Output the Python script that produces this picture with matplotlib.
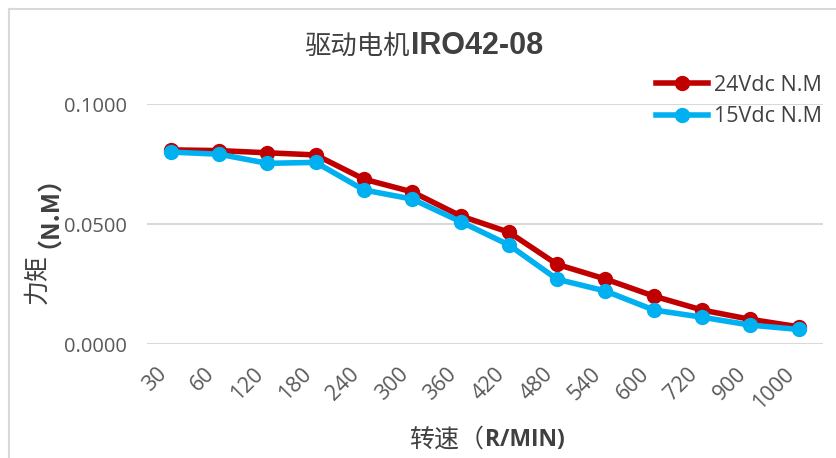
import matplotlib
matplotlib.use("Agg")
import matplotlib.pyplot as plt
from matplotlib.lines import Line2D

plt.rcParams['font.family'] = ['Open Sans', 'Noto Sans CJK SC', 'DejaVu Sans']

speeds = ["30", "60", "120", "180", "240", "300", "360", "420", "480", "540", "600", "720", "900", "1000"]
torque_24v = [0.0810, 0.0807, 0.0798, 0.0789, 0.0688, 0.0635, 0.0535, 0.0467, 0.0333, 0.0272, 0.0201, 0.0143, 0.0104, 0.0073]
torque_15v = [0.0801, 0.0792, 0.0754, 0.0758, 0.0643, 0.0605, 0.0511, 0.0414, 0.0271, 0.0222, 0.0143, 0.0113, 0.0080, 0.0062]
yticks = [0.0, 0.05, 0.1]

W, H = 837, 458
fig = plt.figure(figsize=(W / 100, H / 100), dpi=100)
ax = fig.add_axes([146.7 / W, 1 - 344.3 / H, 676 / W, 240 / H])

x = list(range(len(speeds)))
ax.plot(x, torque_24v, color='#C00000', lw=4, marker='o', ms=10, label='24Vdc N.M', clip_on=False, zorder=3)
ax.plot(x, torque_15v, color='#00B0F0', lw=4, marker='o', ms=10, label='15Vdc N.M', clip_on=False, zorder=4)

ax.set_xlim(-0.5, len(speeds) - 0.5)
ax.set_ylim(0, 0.1)
ax.set_yticks(yticks)
ax.set_yticklabels([f"{v:.4f}" for v in yticks])
ax.set_xticks(x)
ax.set_xticklabels(speeds, rotation=45, ha='right', va='top')
ax.tick_params(axis='both', length=0, colors='#595959', labelsize=14.5)
ax.tick_params(axis='x', labelsize=15.5, pad=14)
ax.tick_params(axis='y', pad=14)
for s in ax.spines.values():
    s.set_visible(False)
ax.grid(axis='y', color='#D9D9D9', lw=1.5)
ax.set_axisbelow(True)

leg = ax.legend(loc='upper right', bbox_to_anchor=(1.012, 1.16), frameon=False, fontsize=15.5,
                handlelength=2.4, handletextpad=0.3, labelspacing=0.5, borderaxespad=0)
for t in leg.get_texts():
    t.set_color('#404040')

# title
fig.text(410 / W, 1 - 46 / H, '驱动电机', ha='right', va='center', fontsize=19, color='#404040',
         family=['Noto Sans CJK SC'])
fig.text(411 / W, 1 - 46 / H, 'IRO42-08', ha='left', va='center', fontsize=22, color='#404040',
         weight='bold', family=['Liberation Sans', 'DejaVu Sans'])

# x label
fig.text(484 / W, 1 - 440 / H, '转速（', ha='right', va='center', fontsize=18, color='#404040',
         family=['Noto Sans CJK SC'])
fig.text(485 / W, 1 - 440 / H, 'R/MIN)', ha='left', va='center', fontsize=16.5, color='#404040',
         weight='bold', family=['Open Sans'])

# y label
fig.text(37 / W, 1 - 254 / H, '力矩', ha='center', va='top', rotation=90, fontsize=18, color='#404040',
         family=['Noto Sans CJK SC'])
fig.text(37 / W, 1 - 248 / H, '（N.M）', ha='center', va='bottom', rotation=90, fontsize=18,
         color='#404040', weight='bold', family=['Noto Sans CJK SC'])

# chart border (top and left edges visible)
fig.add_artist(Line2D([9 / W, 1], [1 - 9 / H, 1 - 9 / H], color='#D9D9D9', lw=1.5))
fig.add_artist(Line2D([9 / W, 9 / W], [0, 1 - 9 / H], color='#D9D9D9', lw=1.5))

fig.savefig('out.png', dpi=100)
